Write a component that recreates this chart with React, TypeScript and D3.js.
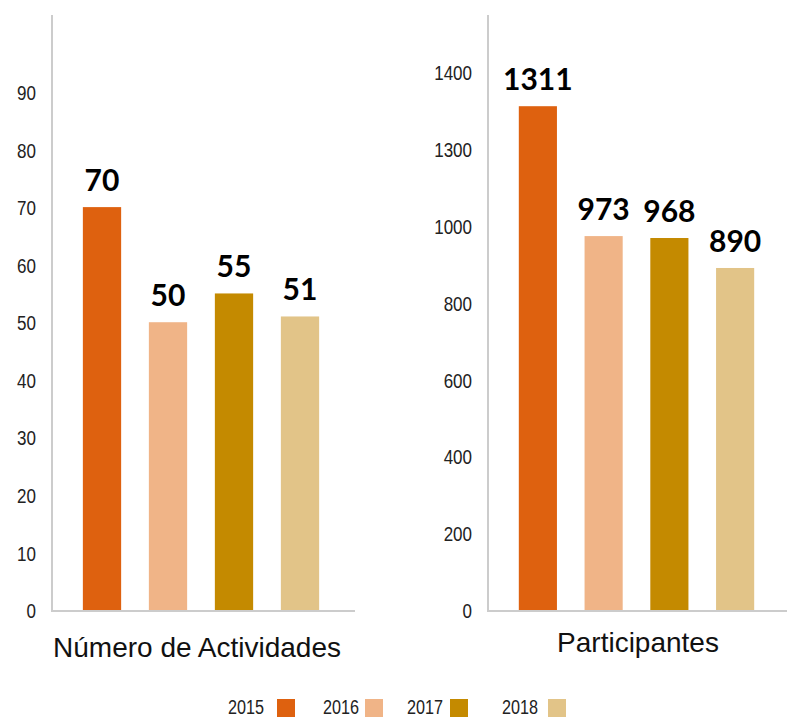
import React, { useRef, useEffect } from "react";
import * as d3 from "d3";

// data
const years = ["2015", "2016", "2017", "2018"];
const colors = ["#DE610F", "#F0B487", "#C48A00", "#E2C488"];
const actividades = [70, 50, 55, 51];
const participantes = [1311, 973, 968, 890];
const actTicks = [0, 10, 20, 30, 40, 50, 60, 70, 80, 90];
const partTicks = [0, 200, 400, 600, 800, 1000, 1200, 1400];
// the original labels the 1200 gridline as "1300"
const partTickLabels = ["0", "200", "400", "600", "800", "1000", "1300", "1400"];

const W = 787;
const H = 719;
const BASE = 610;
// no narrow font installed, so squeeze Liberation Sans horizontally
const NARROW_FONT = "'Liberation Sans', Arial, sans-serif";
const NARROW = 0.81;

export default function App() {
  const ref = useRef<SVGSVGElement | null>(null);

  useEffect(() => {
    if (!ref.current) return;
    const svg = d3.select(ref.current);
    svg.selectAll("*").remove();

    const panel = (opts: {
      axisX: number;
      baseEnd: number;
      bandRange: [number, number];
      values: number[];
      domainMax: number;
      topY: number;
      ticks: number[];
      tickLabels: string[];
      title: string;
      titleX: number;
      titleY: number;
    }) => {
      const g = svg.append("g");
      const x = d3
        .scaleBand<string>()
        .domain(years)
        .range(opts.bandRange)
        .paddingInner(0.42)
        .paddingOuter(0.21);
      const y = d3.scaleLinear().domain([0, opts.domainMax]).range([BASE, opts.topY]);

      // y axis line
      g.append("line")
        .attr("x1", opts.axisX).attr("x2", opts.axisX)
        .attr("y1", 15).attr("y2", BASE + 1)
        .attr("stroke", "#cccccc").attr("stroke-width", 2);

      // tick labels
      const axis = d3
        .axisLeft(y)
        .tickValues(opts.ticks)
        .tickSize(0)
        .tickFormat((_d, i) => opts.tickLabels[i]);
      const ag = g.append("g").attr("transform", `translate(${opts.axisX},0)`).call(axis);
      ag.select(".domain").remove();
      ag.selectAll("text")
        .attr("x", 0)
        .attr("transform", `translate(-16,0) scale(${NARROW},1)`)
        .attr("font-family", NARROW_FONT)
        .attr("font-size", 21)
        .attr("fill", "#222")
        .attr("dy", "0.36em");

      // bars
      g.selectAll("rect.bar")
        .data(opts.values)
        .enter()
        .append("rect")
        .attr("class", "bar")
        .attr("x", (_d, i) => x(years[i])!)
        .attr("width", x.bandwidth())
        .attr("y", (d) => y(d))
        .attr("height", (d) => BASE - y(d))
        .attr("fill", (_d, i) => colors[i]);

      // value labels
      g.selectAll("text.val")
        .data(opts.values)
        .enter()
        .append("text")
        .attr("class", "val")
        .attr("x", (_d, i) => x(years[i])! + x.bandwidth() / 2)
        .attr("y", (d) => y(d) - 16)
        .attr("text-anchor", "middle")
        .attr("font-family", "Lato, sans-serif")
        .attr("font-weight", 700)
        .attr("font-size", 30)
        .attr("fill", "#000")
        .text((d) => d);

      // baseline
      g.append("line")
        .attr("x1", opts.axisX - 1).attr("x2", opts.baseEnd)
        .attr("y1", BASE + 1).attr("y2", BASE + 1)
        .attr("stroke", "#cccccc").attr("stroke-width", 2);

      // title
      g.append("text")
        .attr("x", opts.titleX)
        .attr("y", opts.titleY)
        .attr("text-anchor", "middle")
        .attr("font-family", "'Liberation Sans', Arial, sans-serif")
        .attr("font-size", 28)
        .attr("fill", "#111")
        .text(opts.title);
    };

    panel({
      axisX: 52,
      baseEnd: 355,
      bandRange: [69, 333],
      values: actividades,
      domainMax: 90,
      topY: 92,
      ticks: actTicks,
      tickLabels: actTicks.map(String),
      title: "Número de Actividades",
      titleX: 197,
      titleY: 657,
    });

    panel({
      axisX: 488,
      baseEnd: 787,
      bandRange: [505, 768],
      values: participantes,
      domainMax: 1400,
      topY: 72,
      ticks: partTicks,
      tickLabels: partTickLabels,
      title: "Participantes",
      titleX: 638,
      titleY: 652,
    });

    // legend
    const legendTextX = [228, 323, 407, 502];
    const legendSwatchX = [277, 365, 450, 548];
    const lg = svg.append("g");
    years.forEach((yr, i) => {
      lg.append("text")
        .attr("transform", `translate(${legendTextX[i]},714) scale(${NARROW},1)`)
        .attr("font-family", NARROW_FONT)
        .attr("font-size", 20)
        .attr("fill", "#222")
        .text(yr);
      lg.append("rect")
        .attr("x", legendSwatchX[i])
        .attr("y", 699)
        .attr("width", 18)
        .attr("height", 18)
        .attr("fill", colors[i]);
    });
  }, []);

  return (
    <svg
      ref={ref}
      width={W}
      height={H}
      style={{ position: "absolute", left: 0, top: 0, background: "#fff" }}
    />
  );
}
